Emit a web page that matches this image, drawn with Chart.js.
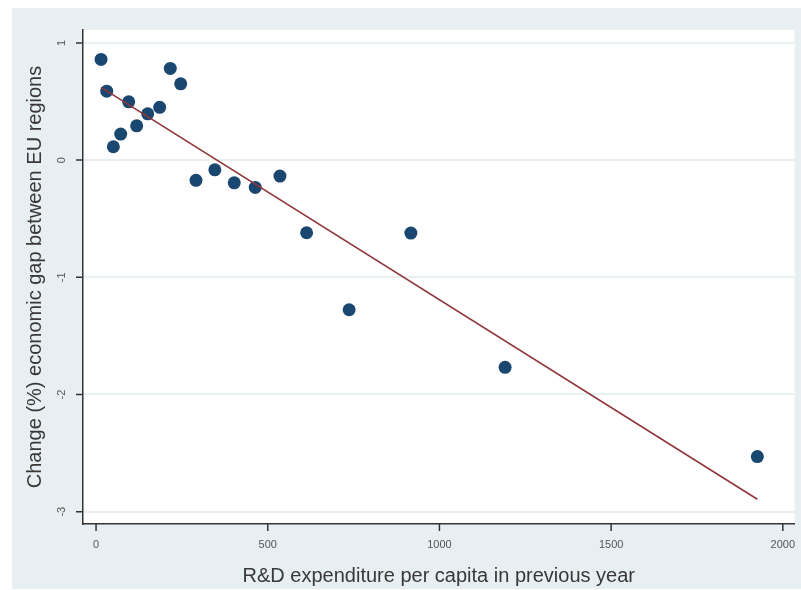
<!DOCTYPE html>
<html>
<head>
<meta charset="utf-8">
<script src="https://cdn.jsdelivr.net/npm/chart.js@4/dist/chart.umd.min.js"></script>
<style>
  html, body { margin: 0; padding: 0; background: #ffffff; }
  #wrap { width: 801px; height: 590px; }
</style>
</head>
<body>
<div id="wrap"><canvas id="c" width="801" height="590"></canvas></div>
<script>
// R&D expenditure per capita (previous year) and change in the economic gap, one entry per region
const rdSpending = [14.6, 31.1, 50.4, 71.8, 95.1, 118.3, 150.4, 185.3, 216.2, 246.5,
                    291, 346, 402.5, 463.6, 535.5, 613.2, 737, 916.8, 1191.2, 1925.8];
const gapChange  = [0.859, 0.588, 0.114, 0.222, 0.497, 0.292, 0.395, 0.450, 0.782, 0.651,
                    -0.173, -0.083, -0.194, -0.233, -0.136, -0.620, -1.277, -0.623, -1.768, -2.530];

// Linear fit, end points
const fitX = [14.6, 1925.8];
const fitY = [0.62, -2.894];

const xTicks = [0, 500, 1000, 1500, 2000];
const yTicks = [-3, -2, -1, 0, 1];

const xTitle = 'R&D expenditure per capita in previous year';
const yTitle = 'Change (%) economic gap between EU regions';

const FONT = '"Liberation Sans", Arial, sans-serif';

const framePlugin = {
  id: 'frame',
  beforeDraw(chart) {
    const { ctx, chartArea: a } = chart;
    ctx.save();
    ctx.fillStyle = '#ffffff';
    ctx.fillRect(0, 0, chart.width, chart.height);
    ctx.fillStyle = '#e8eff2';
    ctx.fillRect(12, 8, chart.width - 12, chart.height - 9);
    ctx.fillStyle = '#ffffff';
    ctx.fillRect(a.left, a.top, a.right - a.left, a.bottom - a.top);
    ctx.restore();
  },
  afterDraw(chart) {
    const { ctx, chartArea: a, scales } = chart;
    const xs = scales.x, ys = scales.y;
    ctx.save();
    // tick marks
    ctx.strokeStyle = '#333333';
    ctx.lineWidth = 1.5;
    ctx.beginPath();
    yTicks.forEach(v => {
      const py = ys.getPixelForValue(v);
      ctx.moveTo(a.left - 7, py);
      ctx.lineTo(a.left, py);
    });
    xTicks.forEach(v => {
      const px = xs.getPixelForValue(v);
      ctx.moveTo(px, a.bottom);
      ctx.lineTo(px, a.bottom + 7);
    });
    ctx.stroke();

    // vertical y tick labels
    ctx.fillStyle = '#555555';
    ctx.font = '11px ' + FONT;
    ctx.textAlign = 'center';
    ctx.textBaseline = 'middle';
    yTicks.forEach(v => {
      const py = ys.getPixelForValue(v);
      ctx.save();
      ctx.translate(62, py);
      ctx.rotate(-Math.PI / 2);
      ctx.fillText(String(v), 0, 0);
      ctx.restore();
    });

    // axis titles
    ctx.fillStyle = '#383838';
    ctx.font = '20px ' + FONT;
    ctx.fillText(xTitle, (a.left + a.right) / 2, 576);
    ctx.save();
    ctx.translate(35, (a.top + a.bottom) / 2);
    ctx.rotate(-Math.PI / 2);
    ctx.fillText(yTitle, 0, 0);
    ctx.restore();
    ctx.restore();
  }
};

new Chart(document.getElementById('c'), {
  type: 'scatter',
  data: {
    datasets: [
      {
        label: 'Fitted values',
        data: fitX.map((x, i) => ({ x, y: fitY[i] })),
        showLine: true,
        borderColor: '#90353b',
        borderWidth: 1.6,
        pointRadius: 0,
        fill: false,
        order: 0
      },
      {
        label: 'Change in gap',
        data: rdSpending.map((x, i) => ({ x, y: gapChange[i] })),
        pointRadius: 6.5,
        pointBackgroundColor: '#1a476f',
        pointBorderWidth: 0,
        order: 1
      }
    ]
  },
  options: {
    responsive: false,
    animation: false,
    devicePixelRatio: 1,
    events: [],
    layout: { padding: { left: 12, top: 30, right: 6, bottom: 0 } },
    plugins: { legend: { display: false }, tooltip: { enabled: false } },
    scales: {
      x: {
        type: 'linear',
        min: -38,
        max: 2034,
        afterBuildTicks: s => { s.ticks = xTicks.map(v => ({ value: v })); },
        afterFit: s => { s.height = 66; s.paddingLeft = 0; s.paddingRight = 0; },
        grid: { display: true, color: 'rgba(0,0,0,0)', drawTicks: false },
        border: { display: true, color: '#333333', width: 1.5 },
        ticks: {
          color: '#555555',
          font: { family: FONT, size: 11 },
          padding: 14,
          maxRotation: 0,
          autoSkip: false,
          callback: v => String(v)
        }
      },
      y: {
        type: 'linear',
        min: -3.105,
        max: 1.11,
        afterBuildTicks: s => { s.ticks = yTicks.map(v => ({ value: v })); },
        afterFit: s => { s.width = 71; s.paddingTop = 0; s.paddingBottom = 0; },
        grid: { display: true, color: '#e8f0f2', lineWidth: 2, drawTicks: false },
        border: { display: true, color: '#333333', width: 1.5 },
        ticks: { display: false }
      }
    }
  },
  plugins: [framePlugin]
});
</script>
</body>
</html>
